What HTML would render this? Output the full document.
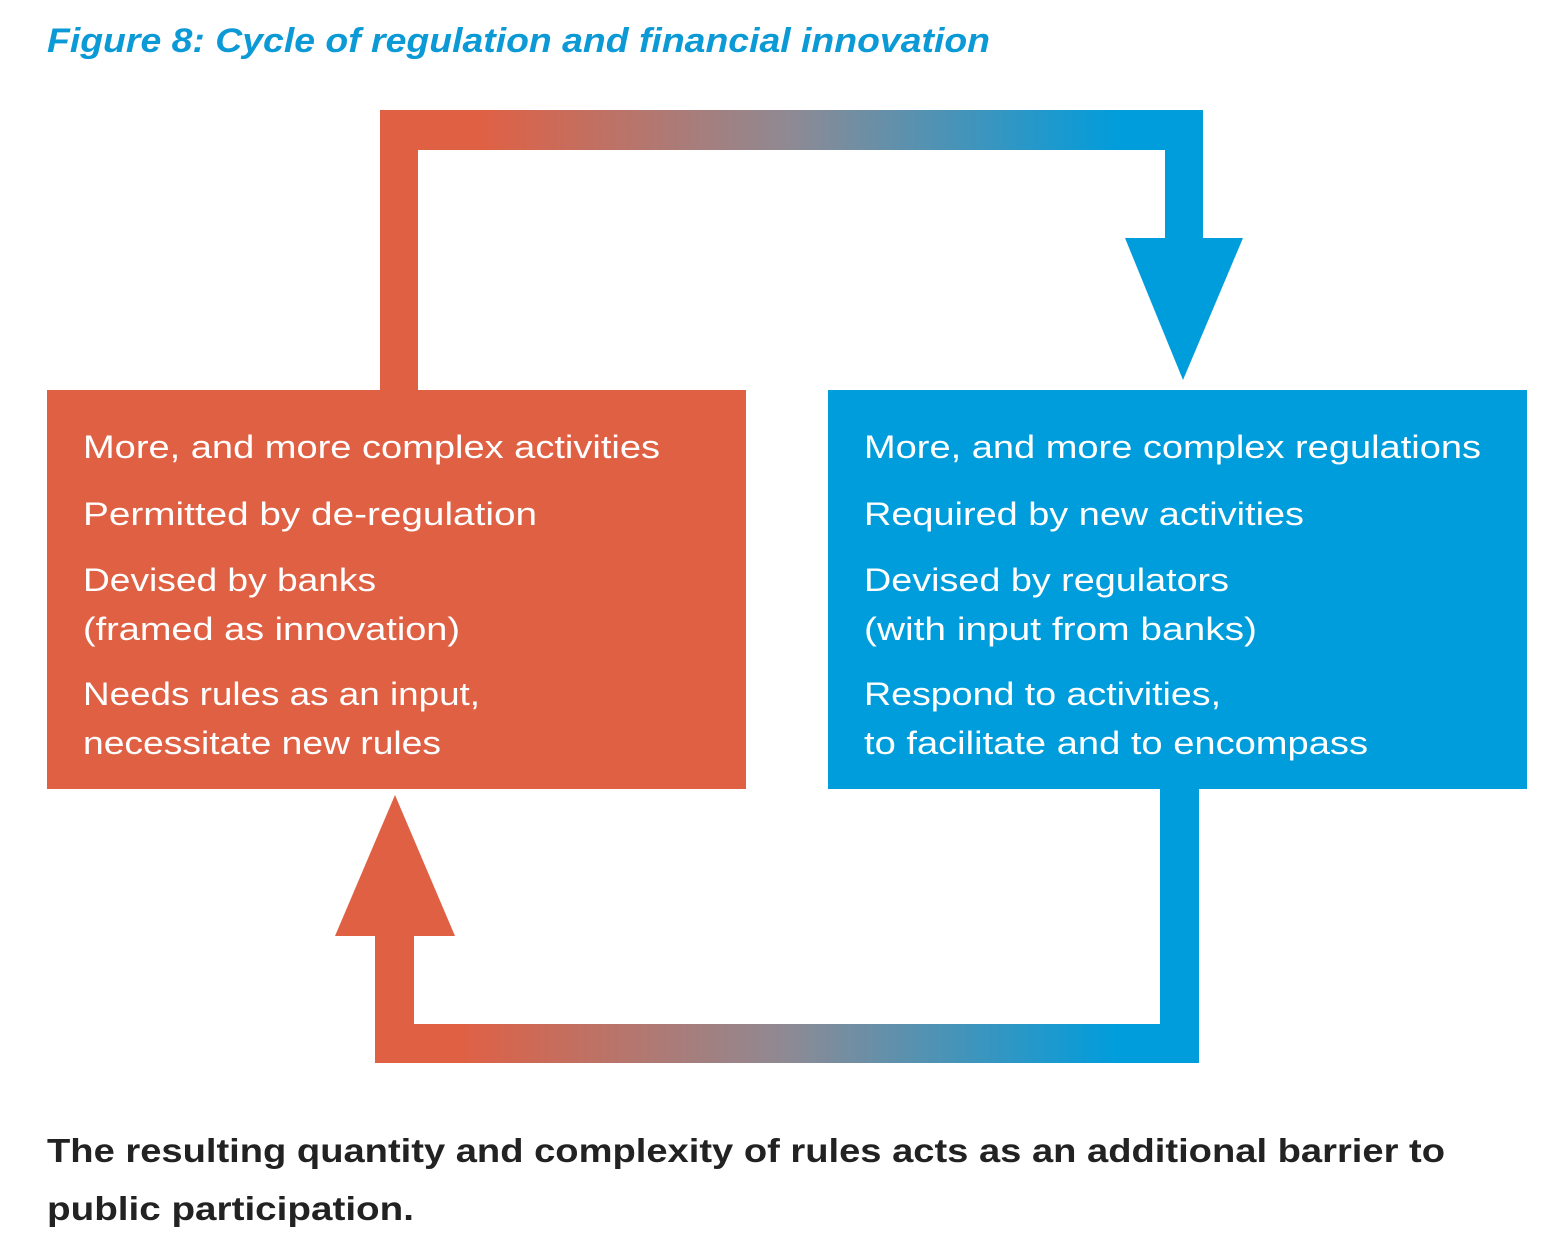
<!DOCTYPE html>
<html><head><meta charset="utf-8"><style>
html,body{margin:0;padding:0;background:#fff;}
svg{display:block;}
text{font-family:"Liberation Sans",sans-serif;}
</style></head><body>
<svg width="1553" height="1260" viewBox="0 0 1553 1260">
<defs>
<linearGradient id="gTop" x1="380" y1="0" x2="1203" y2="0" gradientUnits="userSpaceOnUse">
<stop offset="0.12" stop-color="#e06044"/><stop offset="0.5" stop-color="#8e8a94"/><stop offset="0.9" stop-color="#009ddc"/>
</linearGradient>
<linearGradient id="gBot" x1="375" y1="0" x2="1199" y2="0" gradientUnits="userSpaceOnUse">
<stop offset="0.1" stop-color="#e06044"/><stop offset="0.5" stop-color="#8e8a94"/><stop offset="0.9" stop-color="#009ddc"/>
</linearGradient>
</defs>
<text x="47" y="52" font-size="34" font-weight="bold" font-style="italic" fill="#0c9ad6" textLength="943" lengthAdjust="spacingAndGlyphs">Figure 8: Cycle of regulation and financial innovation</text>

<g>
<rect x="380" y="110" width="38" height="282" fill="#e06044"/>
<rect x="380" y="110" width="823" height="40" fill="url(#gTop)"/>
<rect x="1165" y="110" width="38" height="132" fill="#009ddc"/>
<polygon points="1125,238 1243,238 1183,380" fill="#009ddc"/>
</g>

<g>
<rect x="1160" y="787" width="39" height="276" fill="#009ddc"/>
<rect x="375" y="1024" width="824" height="39" fill="url(#gBot)"/>
<rect x="375" y="930" width="39" height="133" fill="#e06044"/>
<polygon points="335,936 455,936 395,795" fill="#e06044"/>
</g>

<g>
<rect x="47" y="390" width="699" height="399" fill="#e06044"/>
<g fill="#fff" font-size="32">
<text x="83" y="458" textLength="577" lengthAdjust="spacingAndGlyphs">More, and more complex activities</text>
<text x="83" y="525" textLength="454" lengthAdjust="spacingAndGlyphs">Permitted by de-regulation</text>
<text x="83" y="591" textLength="293" lengthAdjust="spacingAndGlyphs">Devised by banks</text>
<text x="83" y="640" textLength="377" lengthAdjust="spacingAndGlyphs">(framed as innovation)</text>
<text x="83" y="705" textLength="397" lengthAdjust="spacingAndGlyphs">Needs rules as an input,</text>
<text x="83" y="754" textLength="358" lengthAdjust="spacingAndGlyphs">necessitate new rules</text>
</g></g>

<g>
<rect x="828" y="390" width="699" height="399" fill="#009ddc"/>
<g fill="#fff" font-size="32">
<text x="864" y="458" textLength="617" lengthAdjust="spacingAndGlyphs">More, and more complex regulations</text>
<text x="864" y="525" textLength="440" lengthAdjust="spacingAndGlyphs">Required by new activities</text>
<text x="864" y="591" textLength="365" lengthAdjust="spacingAndGlyphs">Devised by regulators</text>
<text x="864" y="640" textLength="393" lengthAdjust="spacingAndGlyphs">(with input from banks)</text>
<text x="864" y="705" textLength="357" lengthAdjust="spacingAndGlyphs">Respond to activities,</text>
<text x="864" y="754" textLength="504" lengthAdjust="spacingAndGlyphs">to facilitate and to encompass</text>
</g></g>

<g fill="#222" font-size="33" font-weight="bold">
<text x="47" y="1162" textLength="1398" lengthAdjust="spacingAndGlyphs">The resulting quantity and complexity of rules acts as an additional barrier to</text>
<text x="47" y="1220" textLength="367" lengthAdjust="spacingAndGlyphs">public participation.</text>
</g>
</svg>
</body></html>
